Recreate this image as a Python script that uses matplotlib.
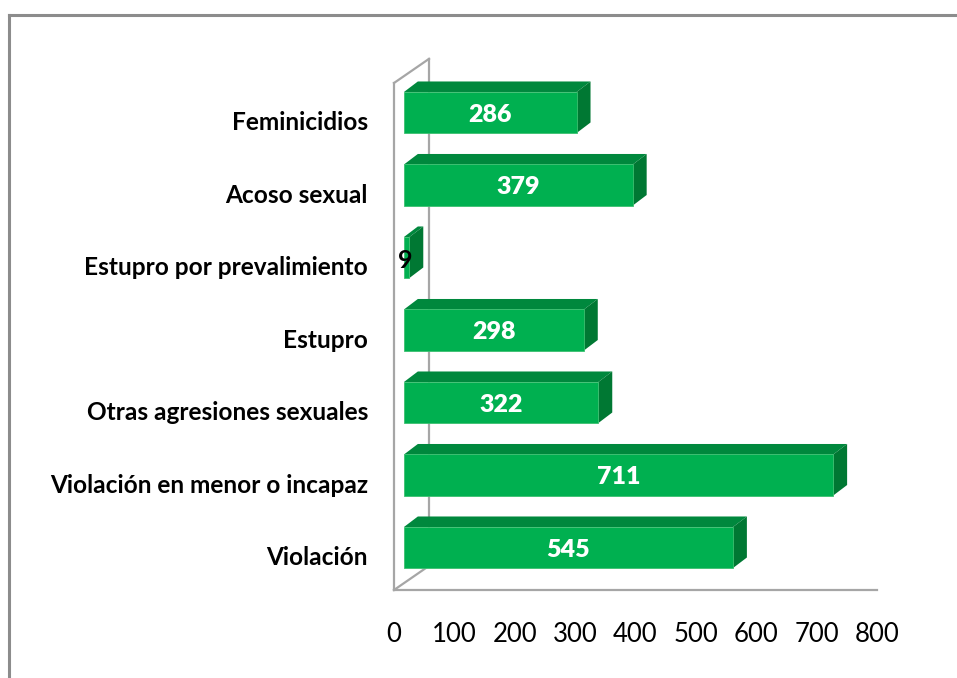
import matplotlib
matplotlib.use("Agg")
import matplotlib.pyplot as plt
from matplotlib.patches import Polygon
import numpy as np

categories = ["Violación", "Violación en menor o incapaz", "Otras agresiones sexuales",
              "Estupro", "Estupro por prevalimiento", "Acoso sexual", "Feminicidios"]
values = [545, 711, 322, 298, 9, 379, 286]
xticks = [0, 100, 200, 300, 400, 500, 600, 700, 800]

W, H = 957, 678
fig = plt.figure(figsize=(W / 100, H / 100), dpi=100)
fig.patch.set_facecolor("white")

# figure border (only top and left visible)
fig.add_artist(plt.Line2D([9 / W, 9 / W], [0, 1 - 15 / H], transform=fig.transFigure,
                          color="#8c8c8c", lw=2.2))
fig.add_artist(plt.Line2D([9 / W, 1], [1 - 15 / H, 1 - 15 / H], transform=fig.transFigure,
                          color="#8c8c8c", lw=2.2))

x0p, x1p = 394, 877
y0p, y1p = 590, 40
ax = fig.add_axes([x0p / W, 1 - y0p / H, (x1p - x0p) / W, (y0p - y1p) / H])
ax.set_xlim(0, 800)
ax.set_ylim(-0.586, 7.0)
ax.axis("off")

FONT = "Lato"
front_c = "#00B050"
top_c = "#00883D"
side_c = "#007833"
wall_c = "#a6a6a6"
px_y = 1 / 72.5
px_x = 800 / (x1p - x0p)

# walls / floor
wdx, wdy = 58, 0.333
ybot, ytop = -0.586, 6.407
ax.plot([0, 0], [ybot, ytop], color=wall_c, lw=1.6, clip_on=False)
ax.plot([wdx, wdx], [ybot + wdy, ytop + wdy], color=wall_c, lw=1.6, clip_on=False)
ax.plot([0, wdx], [ybot, ybot + wdy], color=wall_c, lw=1.6, clip_on=False)
ax.plot([0, wdx], [ytop, ytop + wdy], color=wall_c, lw=1.6, clip_on=False)
ax.plot([0, 800], [ybot, ybot], color=wall_c, lw=1.6, clip_on=False)

base = 16.5
bh = 0.566
ddx, ddy = 23.0, 0.145
for i, (cat, v) in enumerate(zip(categories, values)):
    yb, yt = i - bh / 2, i + bh / 2
    xl, xr = base, base + v
    ax.add_patch(Polygon([[xl, yt], [xr, yt], [xr + ddx, yt + ddy], [xl + ddx, yt + ddy]],
                         closed=True, facecolor=top_c, edgecolor="none", zorder=2))
    ax.add_patch(Polygon([[xr, yb], [xr + ddx, yb + ddy], [xr + ddx, yt + ddy], [xr, yt]],
                         closed=True, facecolor=side_c, edgecolor="none", zorder=2))
    ax.barh(i, v, left=base, height=bh, color=front_c, edgecolor="#3cc070",
            linewidth=0.6, zorder=3)
    if v >= 50:
        ax.text(base + v / 2, i - 2 * px_y, str(v), ha="center", va="center", color="white",
                fontsize=18, fontweight="heavy", family=FONT, zorder=5)
    else:
        ax.text(base + v / 2 - 3, i - 3 * px_y, str(v), ha="center", va="center", color="black",
                fontsize=18, fontweight="bold", family=FONT, zorder=5)
    ax.text(-26 * px_x, i - 10 * px_y, cat, ha="right", va="center", color="black",
            fontsize=17.6, fontweight="bold", family=FONT)

for t in xticks:
    ax.text(t, -0.586 - 44 * px_y, str(t), ha="center", va="center", color="black",
            fontsize=18.5, family=FONT, clip_on=False)

fig.savefig("out.png", dpi=100, facecolor="white")
